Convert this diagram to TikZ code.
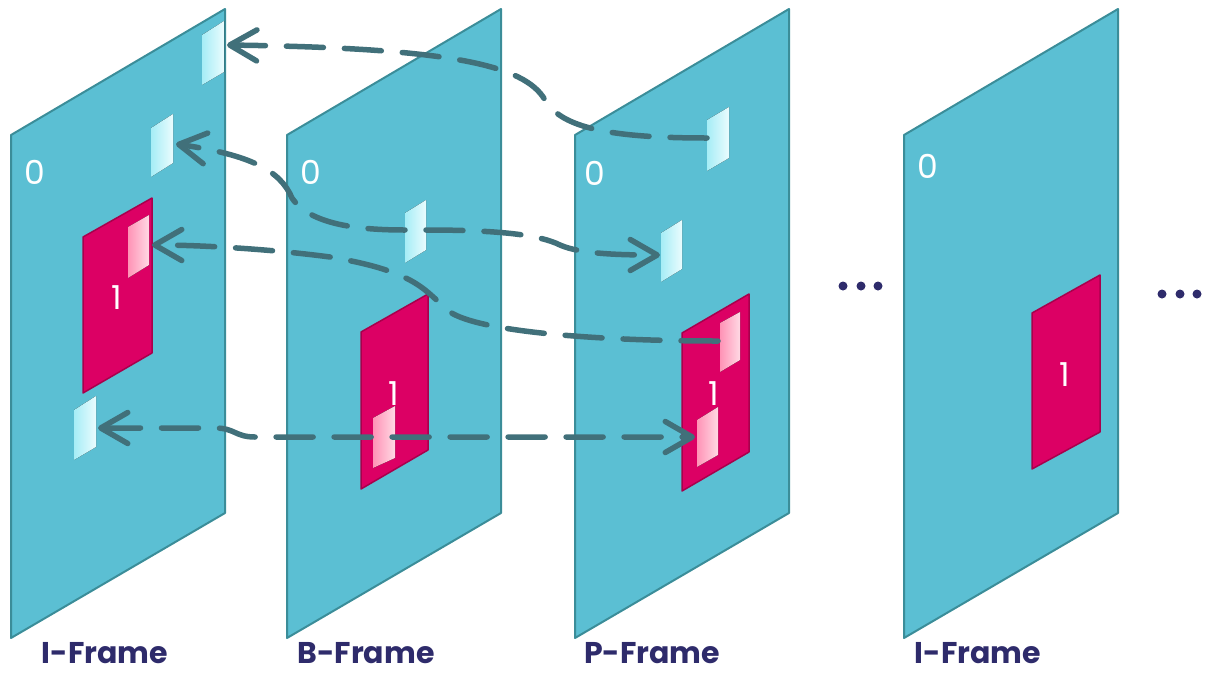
\documentclass[tikz,border=0pt]{standalone}
\usepackage{fontspec}
\setmainfont{Poppins}
\usetikzlibrary{arrows.meta}
\definecolor{framefill}{HTML}{5BBFD3}
\definecolor{frameedge}{HTML}{3B8D99}
\definecolor{mbfill}{HTML}{DC0064}
\definecolor{mbedge}{HTML}{A8004C}
\definecolor{arrowcol}{HTML}{41707A}
\definecolor{navy}{HTML}{2E2B6B}
\definecolor{cyanL}{HTML}{A6EDF6}
\definecolor{cyanR}{HTML}{EAFCFE}
\definecolor{pinkL}{HTML}{FF93B6}
\definecolor{pinkR}{HTML}{FFD9E4}
\begin{document}
\begin{tikzpicture}[x=1pt,y=-1pt,
  frame/.style={fill=framefill,draw=frameedge,line width=2pt,line join=round},
  mb/.style={fill=mbfill,draw=mbedge,line width=1.5pt,line join=round},
  cpatch/.style={left color=cyanL,right color=cyanR,draw=none},
  ppatch/.style={left color=pinkL,right color=pinkR,draw=none},
  mv/.style={draw=arrowcol,line width=5.5pt,line cap=round,dash pattern=on 37pt off 21pt},
  tip/.tip={Straight Barb[length=27pt,width=31pt,round]},
  num/.style={text=white,font=\fontsize{33}{33}\selectfont,inner sep=0pt,anchor=base},
  lab/.style={text=navy,font=\bfseries\fontsize{30}{30}\selectfont,inner sep=0pt,anchor=base},
  dot/.style={fill=navy}]
\useasboundingbox (0,0) rectangle (1205,673);

% frames
\foreach \fx in {11,287,575,904}{
  \draw[frame] (\fx,135) -- ++(214,-126) -- ++(0,504) -- ++(-214,125) -- cycle;
}

% frame 1 content
\node[num] (z1) at (35,184) {0};
\draw[mb] (83,237) -- (152,198) -- (152,353) -- (83,393) -- cycle;
\node[num] (o1) at (117,309) {1};
\fill[ppatch] (128,227) -- (149,215) -- (149,265) -- (128,278) -- cycle;
\fill[cpatch] (202,35) -- (224,21) -- (224,72) -- (202,85) -- cycle;
\fill[cpatch] (151,128) -- (173,114) -- (173,163) -- (151,177) -- cycle;
\fill[cpatch] (74,410) -- (96,396) -- (96,447) -- (74,460) -- cycle;

% frame 2 content
\node[num] (z2) at (311,184) {0};
\draw[mb] (361,332) -- (428,294) -- (428,450) -- (361,489) -- cycle;
\node[num] (o2) at (394,405) {1};
\fill[ppatch] (373,418) -- (395,406) -- (395,458) -- (373,468) -- cycle;
\fill[cpatch] (405,213) -- (426,200) -- (426,250) -- (405,263) -- cycle;

% frame 3 content
\node[num] (z3) at (595,185) {0};
\draw[mb] (682,333) -- (749,294) -- (749,452) -- (682,491) -- cycle;
\node[num] (o3) at (714,405) {1};
\fill[ppatch] (720,323) -- (740,312) -- (740,360) -- (720,372) -- cycle;
\fill[ppatch] (697,420) -- (718,407) -- (718,455) -- (697,467) -- cycle;
\fill[cpatch] (707,120) -- (729,107) -- (729,158) -- (707,171) -- cycle;
\fill[cpatch] (661,233) -- (682,220) -- (682,269) -- (661,282) -- cycle;

% frame 4 content
\node[num] (z4) at (928,178) {0};
\draw[mb] (1032,313) -- (1100,275) -- (1100,432) -- (1032,469) -- cycle;
\node[num] (o4) at (1065,386) {1};

% connector end points
\coordinate (aS) at (707,138);
\coordinate (aE) at (227,45);
\coordinate (bSL) at (405,230);
\coordinate (bEL) at (176,144);
\coordinate (bSR) at (426,230);
\coordinate (bER) at (660,255);
\coordinate (cS) at (718,341);
\coordinate (cE) at (152,245);
\coordinate (dL) at (98,428);
\coordinate (dR) at (695,437);

% motion vectors
\draw[mv,-tip] (aS) .. controls (600,138) and (560,125) .. (545,100)
  .. controls (525,65) and (450,48) .. (aE);
\draw[mv,-tip] (bSL) .. controls (360,230) and (310,225) .. (292,198)
  .. controls (280,170) and (250,155) .. (bEL);
\draw[mv,-tip] (bSR) .. controls (500,230) and (540,235) .. (560,245)
  .. controls (580,254) and (620,255) .. (bER);
\draw[mv,-tip] (cS) .. controls (600,341) and (480,332) .. (450,312)
  .. controls (425,292) and (420,272) .. (330,257)
  .. controls (270,249) and (200,245) .. (cE);
\draw[mv,tip-tip] (dL) -- (215,428) .. controls (235,428) and (235,437) .. (255,437) -- (dR);

% ellipses
\fill[dot] (843,286) circle (4.5) (861,286) circle (4.5) (878,286) circle (4.5);
\fill[dot] (1162,294) circle (4.5) (1180,294) circle (4.5) (1197,294) circle (4.5);

% labels
\node[lab] (l1) at (105,663) {I-Frame};
\node[lab] (l2) at (366,663) {B-Frame};
\node[lab] (l3) at (652,663) {P-Frame};
\node[lab] (l4) at (978,663) {I-Frame};
\end{tikzpicture}
\end{document}
